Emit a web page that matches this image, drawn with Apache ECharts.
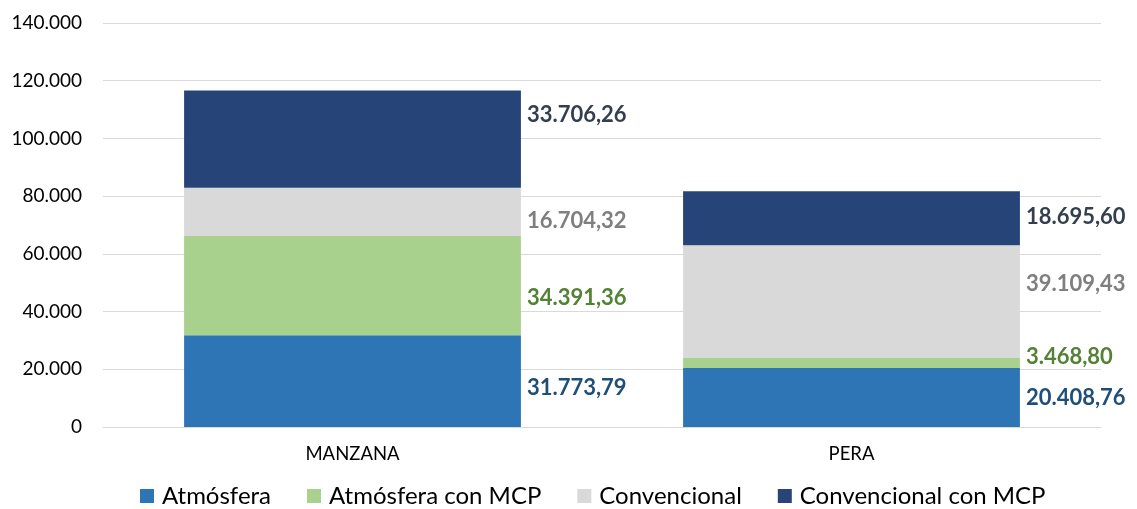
<!DOCTYPE html>
<html>
<head>
<meta charset="utf-8">
<script src="https://cdn.jsdelivr.net/npm/echarts@6/dist/echarts.min.js"></script>
<style>
  html, body { margin: 0; padding: 0; background: #fff; }
  #chart { width: 1137px; height: 509px; }
</style>
</head>
<body>
<div id="chart"></div>
<script>
const categories = ['MANZANA', 'PERA'];
const atmosfera = [31773.79, 20408.76];
const atmosferaMcp = [34391.36, 3468.80];
const convencional = [16704.32, 39109.43];
const convencionalMcp = [33706.26, 18695.60];

// label vertical nudges (px), per series and category
const labelShift = {
  atm: [7, 0],
  atmMcp: [12, -6],
  conv: [9, -18],
  convMcp: [-24, -1]
};

const fmt = v => {
  const parts = v.toFixed(2).split('.');
  return parts[0].replace(/\B(?=(\d{3})+(?!\d))/g, '.') + ',' + parts[1];
};
const fmtAxis = v => v === 0 ? '0' : String(v).replace(/\B(?=(\d{3})+(?!\d))/g, '.');

const font = 'Lato';

const mkSeries = (name, values, color, labelColor, shifts) => ({
  name: name,
  type: 'bar',
  stack: 'total',
  barWidth: '67.5%',
  itemStyle: { color: color },
  label: {
    show: true,
    position: 'right',
    distance: 6,
    color: labelColor,
    fontFamily: font,
    fontWeight: 'bold',
    fontSize: 22,
    formatter: p => fmt(p.value)
  },
  data: values.map((v, i) => ({ value: v, label: { offset: [0, shifts[i]] } }))
});

const myChart = echarts.init(document.getElementById('chart'));
const option = {
  animation: false,
  grid: { left: 103, right: 36, top: 23, bottom: 82, containLabel: false },
  legend: {
    top: 484,
    left: 140,
    padding: 0,
    itemWidth: 14,
    itemHeight: 14,
    itemGap: 36,
    icon: 'rect',
    textStyle: { fontFamily: font, fontSize: 24, color: '#000', padding: [0, 0, 0, 3] },
    data: ['Atmósfera', 'Atmósfera con MCP', 'Convencional', 'Convencional con MCP']
  },
  xAxis: {
    type: 'category',
    data: categories,
    axisLine: { lineStyle: { color: '#d9d9d9', width: 1 } },
    axisTick: { show: false },
    axisLabel: { color: '#000', fontFamily: font, fontSize: 18.5, margin: 18 }
  },
  yAxis: {
    type: 'value',
    min: 0,
    max: 140000,
    interval: 20000,
    axisLine: { show: false },
    axisTick: { show: false },
    splitLine: { lineStyle: { color: '#d9d9d9', width: 1 } },
    axisLabel: { color: '#000', fontFamily: font, fontSize: 19, margin: 21, formatter: fmtAxis }
  },
  series: [
    mkSeries('Atmósfera', atmosfera, '#2e75b6', '#1f4e79', labelShift.atm),
    mkSeries('Atmósfera con MCP', atmosferaMcp, '#a9d18e', '#548235', labelShift.atmMcp),
    mkSeries('Convencional', convencional, '#d9d9d9', '#7f7f7f', labelShift.conv),
    mkSeries('Convencional con MCP', convencionalMcp, '#264478', '#333f50', labelShift.convMcp)
  ]
};
myChart.setOption(option);
</script>
</body>
</html>
